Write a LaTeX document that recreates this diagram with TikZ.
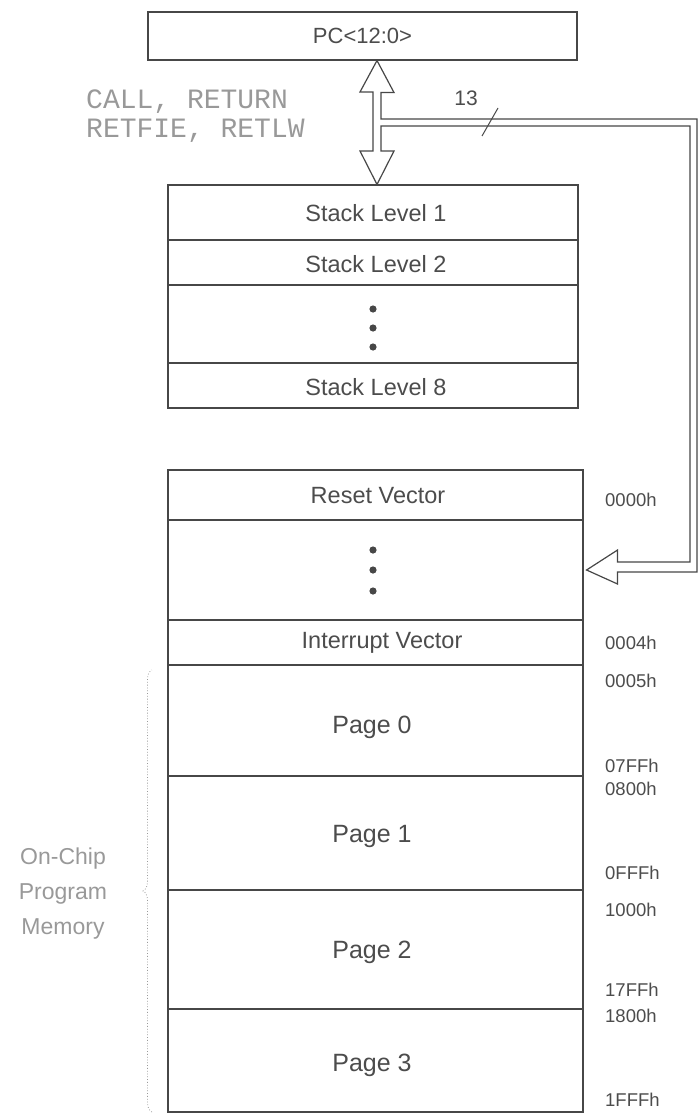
\documentclass[tikz,border=0pt]{standalone}
\usepackage{fontspec}
\setmainfont{Liberation Sans}
\newfontfamily\codefont{Liberation Mono}
\usetikzlibrary{fit,decorations.pathreplacing}
\definecolor{ink}{gray}{0.28}
\definecolor{txt}{gray}{0.3}
\definecolor{faint}{gray}{0.6}
\tikzset{
  cell/.style={draw=ink, line width=1.1pt, inner sep=0pt},
  lbl/.style={text=txt, inner sep=0pt, font=\fontsize{23.5}{26}\selectfont},
  pagelbl/.style={text=txt, inner sep=0pt, font=\fontsize{25}{28}\selectfont},
  frame/.style={draw=ink, line width=1.8pt},
  addr/.style={anchor=west, text=txt, inner sep=0pt, font=\fontsize{18.5}{20}\selectfont},
  code/.style={anchor=west, text=faint, inner sep=0pt, font=\codefont\fontsize{28}{30}\selectfont},
  bus/.style={draw=ink, line width=1.2pt, fill=white, line join=miter},
  dot/.style={fill=ink}
}
\begin{document}
\begin{tikzpicture}[x=1pt,y=-1pt]
\useasboundingbox (0,0) rectangle (700,1119);

% PC register
\node[cell, fit={(148,12)(577,60)}] (pc) {};
\node[text=txt, font=\fontsize{22}{24}\selectfont] (pclabel) at (pc.center) {PC<12:0>};

% stack
\node[cell, fit={(168,185)(578,240)}] (s1) {};
\node[lbl] (s1t) at (376,213) {Stack Level 1};
\node[cell, fit={(168,240)(578,285)}] (s2) {};
\node[lbl] (s2t) at (376,264) {Stack Level 2};
\node[cell, fit={(168,285)(578,363)}] (sd) {};
\node[cell, fit={(168,363)(578,408)}] (s8) {};
\node[lbl] (s8t) at (376,387) {Stack Level 8};
\draw[frame] (s1.north west) rectangle (s8.south east);
\fill[dot] (373,309) circle (3.6) (373,328) circle (3.6) (373,347) circle (3.6);

% program memory
\node[cell, fit={(168,470)(583,520)}] (rv) {};
\node[lbl] (rvt) at (378,496) {Reset Vector};
\node[cell, fit={(168,520)(583,620)}] (md) {};
\node[cell, fit={(168,620)(583,665)}] (iv) {};
\node[lbl] (ivt) at (382,643) {Interrupt Vector};
\node[cell, fit={(168,665)(583,776)}] (p0) {};
\node[pagelbl] (p0t) at (372,727) {Page 0};
\node[cell, fit={(168,776)(583,890)}] (p1) {};
\node[pagelbl] (p1t) at (372,836) {Page 1};
\node[cell, fit={(168,890)(583,1009)}] (p2) {};
\node[pagelbl] (p2t) at (372,952) {Page 2};
\node[cell, fit={(168,1009)(583,1112)}] (p3) {};
\node[pagelbl] (p3t) at (372,1065) {Page 3};
\draw[frame] (rv.north west) rectangle (p3.south east);
\draw[ink, line width=1.8pt] (iv.south west) -- (iv.south east);
\fill[dot] (373,550) circle (3.6) (373,570) circle (3.6) (373,591) circle (3.6);

% addresses
\node[addr] (a0) at (605,500) {0000h};
\node[addr] (a1) at (605,643) {0004h};
\node[addr] (a2) at (605,681) {0005h};
\node[addr] (a3) at (605,766) {07FFh};
\node[addr] (a4) at (605,789) {0800h};
\node[addr] (a5) at (605,873) {0FFFh};
\node[addr] (a6) at (605,910) {1000h};
\node[addr] (a7) at (605,990) {17FFh};
\node[addr] (a8) at (605,1016) {1800h};
\node[addr] (a9) at (605,1100) {1FFFh};

% instructions label
\node[code] (c1) at (86,102) {CALL, RETURN};
\node[code] (c2) at (86,131) {RETFIE, RETLW};

% double arrow PC <-> stack, with 13-bit bus to program memory
\coordinate (top) at (pc.south -| 377,0);
\coordinate (bot) at (s1.north -| 377,0);
\coordinate (tgt) at (md.east);
\draw[bus]
  (top) -- ++(17,32) -- ++(-13,0) -- (381,119) -- (697,119)
  -- (697,572) -- ([xshift=34pt]tgt |- 0,572) -- ([xshift=34pt]tgt |- 0,584)
  -- ([xshift=3pt]tgt) -- ([xshift=34pt]tgt |- 0,550) -- ([xshift=34pt]tgt |- 0,562)
  -- (690,562) -- (690,126) -- (381,126) -- (381,151) -- (394,151)
  -- (bot) -- (360,151) -- (373,151) -- (373,92) -- (360,92) -- cycle;
\draw[ink, line width=1pt] (482,136) -- (498,108);
\node[text=txt, font=\fontsize{21}{22}\selectfont] (n13) at (466,98) {13};

% on-chip program memory brace
\draw[faint, line width=0.8pt, dotted, decorate, decoration={brace, amplitude=9pt}]
  (152,1112) -- (152,670);
\node[text=faint, align=center, font=\fontsize{23}{35}\selectfont] (ocpm) at (63,894) {On-Chip\\Program\\Memory};
\end{tikzpicture}
\end{document}
